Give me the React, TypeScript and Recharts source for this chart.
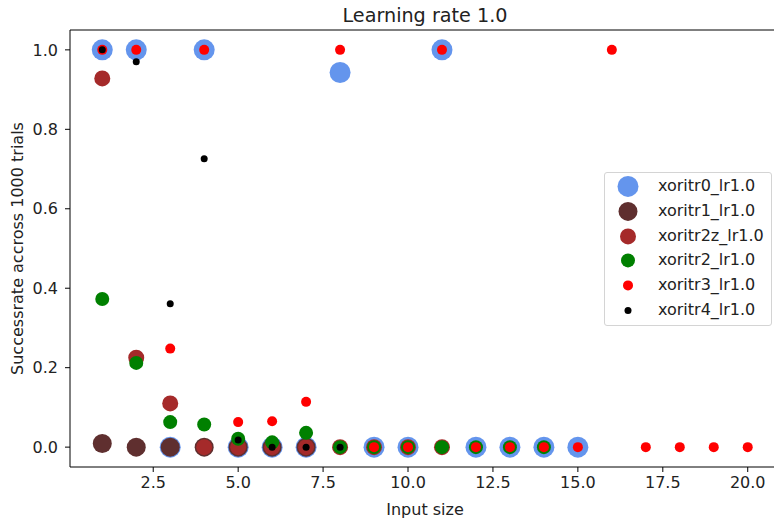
import { ScatterChart, Scatter, XAxis, YAxis, ReferenceLine } from 'recharts';

// input sizes per run, and success rate across 1000 trials
const sizesR0 = [1, 2, 3, 4, 5, 6, 7, 8, 9, 10, 11, 12, 13, 14, 15];
const rateR0 = [1.0, 1.0, 0.0, 1.0, 0.0, 0.0, 0.0, 0.943, 0.0, 0.0, 1.0, 0.0, 0.0, 0.0, 0.0];

const sizesR1 = [1, 2, 3, 4, 5, 6, 7];
const rateR1 = [0.009, 0.0, 0.0, 0.0, 0.0, 0.0, 0.0];

const sizesR2z = [1, 2, 3, 4, 5, 6, 7, 8, 9, 10, 11];
const rateR2z = [0.928, 0.225, 0.11, 0.0, 0.0, 0.0, 0.0, 0.0, 0.0, 0.0, 0.0];

const sizesR2 = [1, 2, 3, 4, 5, 6, 7, 8, 9, 10, 11, 12, 13, 14];
const rateR2 = [0.373, 0.212, 0.063, 0.057, 0.021, 0.012, 0.036, 0.0, 0.0, 0.0, 0.0, 0.0, 0.0, 0.0];

const sizesR3 = [1, 2, 3, 4, 5, 6, 7, 8, 9, 10, 11, 12, 13, 14, 15, 16, 17, 18, 19, 20];
const rateR3 = [1.0, 1.0, 0.248, 1.0, 0.063, 0.065, 0.114, 1.0, 0.0, 0.0, 1.0, 0.0, 0.0, 0.0, 0.0, 1.0, 0.0, 0.0, 0.0, 0.0];

const sizesR4 = [1, 2, 3, 4, 5, 6, 7, 8];
const rateR4 = [1.0, 0.97, 0.361, 0.726, 0.018, 0.0, 0.0, 0.0];

const xTicks = [2.5, 5.0, 7.5, 10.0, 12.5, 15.0, 17.5, 20.0];
const yTicks = [0.0, 0.2, 0.4, 0.6, 0.8, 1.0];

const toPoints = (xs: number[], ys: number[]) => xs.map((x, i) => ({ x, y: ys[i] }));

const series = [
  { name: 'xoritr0_lr1.0', data: toPoints(sizesR0, rateR0), color: '#6495ED', r: 10.5 },
  { name: 'xoritr1_lr1.0', data: toPoints(sizesR1, rateR1), color: '#5f2f2f', r: 9.5 },
  { name: 'xoritr2z_lr1.0', data: toPoints(sizesR2z, rateR2z), color: '#a52a2a', r: 8 },
  { name: 'xoritr2_lr1.0', data: toPoints(sizesR2, rateR2), color: '#008000', r: 7 },
  { name: 'xoritr3_lr1.0', data: toPoints(sizesR3, rateR3), color: '#ff0000', r: 5 },
  { name: 'xoritr4_lr1.0', data: toPoints(sizesR4, rateR4), color: '#000000', r: 3.5 },
];

const font = '"DejaVu Sans", sans-serif';
const textColor = '#222';

const dot = (r: number, fill: string) => (p: any) => (
  <circle cx={p.cx} cy={p.cy} r={r} fill={fill} />
);

const YLabel = (props: any) => {
  const vb = props.viewBox || {};
  const cy = vb.y != null ? vb.y + vb.height / 2 : 248;
  const cx = 17;
  return (
    <text
      x={cx}
      y={cy}
      transform={`rotate(-90, ${cx}, ${cy})`}
      textAnchor="middle"
      dominantBaseline="central"
      fontSize={16}
      fontFamily={font}
      fill={textColor}
    >
      Successrate accross 1000 trials
    </text>
  );
};

const App = () => {
  return (
    <div style={{ position: 'relative', width: 774, height: 523, overflow: 'hidden', background: '#fff', fontFamily: font }}>
      <style>{'body { margin: 0; }'}</style>
      <div
        style={{
          position: 'absolute',
          left: 70,
          width: 710,
          top: 6,
          textAlign: 'center',
          fontSize: 19.2,
          lineHeight: '19.2px',
          color: textColor,
        }}
      >
        Learning rate 1.0
      </div>
      <ScatterChart width={790} height={523} margin={{ top: 30, right: 10, bottom: 0, left: 0 }}>
        <XAxis
          type="number"
          dataKey="x"
          domain={[0.05, 20.95]}
          allowDataOverflow
          ticks={xTicks}
          tickFormatter={(v: number) => v.toFixed(1)}
          height={56}
          tickSize={5}
          tickMargin={5}
          stroke="#000"
          tick={{ fontSize: 16, fontFamily: font, fill: textColor }}
          label={{ value: 'Input size', position: 'insideBottom', offset: 8, fontSize: 16, fontFamily: font, fill: textColor }}
        />
        <YAxis
          type="number"
          dataKey="y"
          domain={[-0.05, 1.05]}
          allowDataOverflow
          ticks={yTicks}
          tickFormatter={(v: number) => v.toFixed(1)}
          width={70}
          tickSize={5}
          tickMargin={7}
          stroke="#000"
          tick={{ fontSize: 16, fontFamily: font, fill: textColor }}
          label={YLabel}
        />
        <ReferenceLine y={1.05} stroke="#000" />
        <ReferenceLine x={20.95} stroke="#000" />
        {series.map((s) => (
          <Scatter
            key={s.name}
            name={s.name}
            data={s.data}
            fill={s.color}
            shape={dot(s.r, s.color)}
            isAnimationActive={false}
          />
        ))}
      </ScatterChart>
      <div
        style={{
          position: 'absolute',
          left: 604,
          top: 172,
          width: 168,
          height: 154,
          border: '1px solid #d4d4d4',
          borderRadius: 3,
          background: 'rgba(255,255,255,0.8)',
          paddingTop: 1,
          boxSizing: 'border-box',
        }}
      >
        {series.map((s) => (
          <div key={s.name} style={{ display: 'flex', alignItems: 'center', height: 24.8 }}>
            <svg width={48} height={24.8} style={{ flex: 'none' }}>
              <circle cx={23} cy={12.4} r={s.r} fill={s.color} />
            </svg>
            <span style={{ fontSize: 16, lineHeight: '24.8px', color: textColor, marginLeft: 5 }}>{s.name}</span>
          </div>
        ))}
      </div>
    </div>
  );
};

export default App;
